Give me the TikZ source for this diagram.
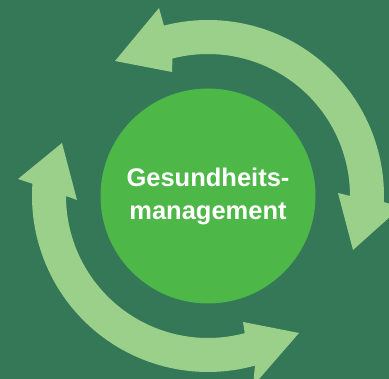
\documentclass[tikz,border=0pt]{standalone}
\usepackage{fontspec}
\setmainfont{Liberation Sans}
\usetikzlibrary{calc}
\definecolor{bg}{RGB}{52,120,88}
\definecolor{disc}{RGB}{77,183,72}
\definecolor{arrowc}{RGB}{155,208,138}
\tikzset{
  cyclearrow/.style={fill=arrowc, draw=none},
  label text/.style={anchor=base, text=white, inner sep=0pt,
    font=\bfseries\fontsize{25.5}{30}\selectfont}
}
\begin{document}
\begin{tikzpicture}[x=1pt,y=1pt]
\useasboundingbox (0,0) rectangle (389,379);
\fill[bg] (0,0) rectangle (389,379);
\clip (0,0) rectangle (389,379);
\coordinate (C) at (208,183);
% upper double-headed arc
\fill[cyclearrow] ($(C)+(104.5:176pt)$) -- (159,371) -- (115,318) -- (172,307)
  -- ($(C)+(104.5:142pt)$) arc[start angle=104.5, end angle=0, radius=142pt]
  -- (338,186) -- (353,129) -- (401,172)
  -- ($(C)+(-2:176pt)$) arc[start angle=-2, end angle=104.5, radius=176pt] -- cycle;
% lower double-headed arc
\fill[cyclearrow] ($(C)+(176:176pt)$) -- (18,200) -- (62,236) -- (77,179)
  -- ($(C)+(180:142pt)$) arc[start angle=180, end angle=285, radius=142pt]
  -- (243,57) -- (299,46) -- (253,-7)
  -- ($(C)+(285.5:176pt)$) arc[start angle=285.5, end angle=176, radius=176pt] -- cycle;
% centre disc
\node[circle, fill=disc, minimum size=215pt, inner sep=0pt] (disc) at (C) {};
\node[label text] (t1) at (208,192.3) {Gesundheits-};
\node[label text] (t2) at (208,159.7) {management};
\end{tikzpicture}
\end{document}
